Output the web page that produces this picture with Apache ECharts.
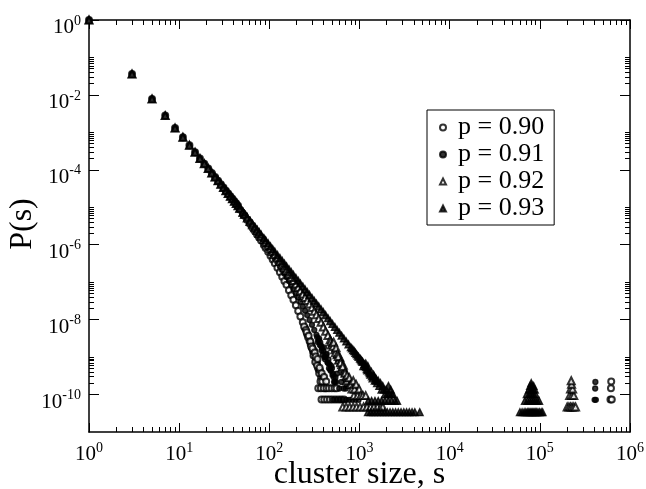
<!DOCTYPE html>
<html>
<head>
<meta charset="utf-8">
<script src="https://cdn.jsdelivr.net/npm/echarts@6/dist/echarts.min.js"></script>
<style>
  html, body { margin: 0; padding: 0; background: #ffffff; }
  #chart { width: 646px; height: 489px; }
</style>
</head>
<body>
<div id="chart"></div>
<script>
// Cluster size distribution P(s) for four occupation probabilities, log-log.
// Each entry is [s, P(s)].

// Small clusters: the four distributions coincide here.
const headPoints = [
  [1, 1], [3, 3.6e-2], [5, 7.8e-3], [7, 2.8e-3], [9, 1.3e-3], [11, 7.4e-4],
  [13, 4.5e-4], [15, 2.95e-4], [17, 2.0e-4], [19, 1.46e-4], [21, 1.08e-4],
  [23, 8.2e-5], [25, 6.4e-5], [27, 5.1e-5], [29, 4.1e-5], [31, 3.36e-5],
  [33, 2.78e-5], [35, 2.33e-5], [37, 1.97e-5], [39, 1.69e-5], [41, 1.45e-5],
  [43, 1.26e-5], [45, 1.10e-5]
];

const p90Points = [
  [47, 8.78e-6], [51, 6.72e-6], [53, 5.92e-6], [57, 4.60e-6], [61, 3.59e-6], [65, 2.86e-6],
  [69, 2.31e-6], [73, 1.88e-6], [77, 1.55e-6], [81, 1.29e-6], [87, 9.82e-7], [91, 8.21e-7],
  [97, 6.48e-7], [103, 5.09e-7], [109, 4.05e-7], [115, 3.22e-7], [123, 2.43e-7], [131, 1.83e-7],
  [139, 1.40e-7], [147, 1.08e-7], [155, 8.50e-8], [165, 6.13e-8], [175, 4.49e-8], [185, 3.38e-8],
  [197, 2.41e-8], [209, 1.71e-8], [221, 1.22e-8], [235, 8.48e-9], [249, 5.91e-9], [263, 4.08e-9],
  [279, 2.71e-9], [297, 1.75e-9], [315, 1.16e-9], [333, 7.64e-10], [353, 4.63e-10], [375, 2.87e-10],
  [397, 1.79e-10],
  [243, 6.6e-9], [255, 5.3e-9], [259, 4.6e-9], [269, 3.4e-9], [273, 3.7e-9], [287, 2.22e-9],
  [295, 2.0e-9], [305, 1.41e-9], [313, 1.48e-9], [331, 8.89e-10], [337, 6.67e-10], [347, 5.19e-10],
  [357, 3.71e-10], [365, 4.45e-10], [393, 2.96e-10],
  [285, 2.59e-9], [291, 1.93e-9], [301, 1.70e-9], [309, 1.11e-9], [319, 1.33e-9], [323, 7.41e-10],
  [327, 1.04e-9], [339, 5.93e-10], [343, 8.89e-10], [361, 5.19e-10], [369, 2.22e-10], [381, 3.71e-10],
  [387, 2.22e-10], [405, 2.96e-10], [417, 1.48e-10], [427, 2.22e-10],
  [349, 1.48e-10], [373, 1.48e-10], [401, 1.48e-10], [431, 1.48e-10], [459, 1.48e-10], [493, 1.48e-10],
  [529, 1.48e-10], [557, 1.48e-10],
  [379, 7.41e-11], [407, 7.41e-11], [437, 7.41e-11], [469, 7.41e-11], [503, 7.41e-11], [541, 7.41e-11],
  [583, 7.41e-11], [627, 7.41e-11], [673, 7.41e-11],
  [607000, 7.41e-11], [628000, 7.41e-11], [615000, 1.48e-10], [619000, 2.22e-10]
];

const p91Points = [
  [47, 9.09e-6], [51, 7.03e-6], [53, 6.20e-6], [57, 4.92e-6], [61, 3.96e-6], [65, 3.21e-6],
  [69, 2.62e-6], [73, 2.16e-6], [77, 1.80e-6], [81, 1.51e-6], [87, 1.18e-6], [91, 1.01e-6],
  [97, 8.06e-7], [103, 6.48e-7], [109, 5.28e-7], [115, 4.35e-7], [123, 3.39e-7], [131, 2.65e-7],
  [139, 2.12e-7], [147, 1.69e-7], [155, 1.38e-7], [165, 1.07e-7], [175, 8.36e-8], [185, 6.59e-8],
  [197, 5.10e-8], [209, 3.91e-8], [221, 3.00e-8], [235, 2.27e-8], [249, 1.74e-8], [263, 1.32e-8],
  [279, 9.84e-9], [297, 7.30e-9], [315, 5.31e-9], [333, 3.93e-9], [353, 2.79e-9], [375, 2.00e-9],
  [397, 1.43e-9], [421, 9.93e-10], [447, 6.91e-10], [473, 4.73e-10], [501, 3.32e-10], [533, 2.18e-10],
  [339, 3.40e-9], [345, 2.53e-9], [357, 3.1e-9], [363, 2.1e-9], [379, 1.52e-9], [391, 1.16e-9],
  [403, 1.81e-9], [415, 8.69e-10], [427, 1.16e-9], [441, 7.24e-10], [453, 8.69e-10], [465, 6.52e-10],
  [479, 4.34e-10], [495, 5.07e-10], [507, 3.62e-10], [523, 2.17e-10], [541, 2.90e-10],
  [367, 2.46e-9], [385, 1.74e-9], [409, 1.01e-9], [433, 1.23e-9], [459, 5.07e-10], [487, 5.79e-10],
  [517, 2.90e-10], [549, 2.17e-10], [563, 3.62e-10], [597, 1.45e-10], [631, 2.17e-10], [669, 1.45e-10],
  [705, 1.45e-10],
  [511, 7.24e-11], [557, 7.24e-11], [603, 7.24e-11], [653, 7.24e-11], [711, 7.24e-11], [769, 7.24e-11],
  [833, 7.24e-11], [903, 7.24e-11], [977, 7.24e-11],
  [405000, 7.24e-11], [418000, 7.24e-11], [411000, 1.45e-10], [413000, 2.17e-10]
];

const p92Points = [
  [47, 9.30e-6], [51, 7.23e-6], [53, 6.42e-6], [57, 5.14e-6], [61, 4.16e-6], [65, 3.41e-6],
  [69, 2.84e-6], [73, 2.39e-6], [77, 2.02e-6], [81, 1.72e-6], [87, 1.37e-6], [91, 1.19e-6],
  [97, 9.69e-7], [103, 7.90e-7], [109, 6.55e-7], [115, 5.50e-7], [123, 4.39e-7], [131, 3.58e-7],
  [139, 2.94e-7], [147, 2.44e-7], [155, 2.06e-7], [165, 1.66e-7], [175, 1.35e-7], [185, 1.11e-7],
  [197, 8.92e-8], [209, 7.27e-8], [221, 5.95e-8], [235, 4.81e-8], [249, 3.92e-8], [263, 3.24e-8],
  [279, 2.63e-8], [297, 2.11e-8], [315, 1.68e-8], [333, 1.36e-8], [353, 1.07e-8], [375, 8.49e-9],
  [397, 6.37e-9], [421, 4.86e-9], [447, 3.80e-9], [473, 2.92e-9], [501, 2.24e-9], [533, 1.58e-9],
  [565, 1.16e-9], [597, 8.55e-10], [633, 6.23e-10], [671, 4.37e-10], [713, 3.04e-10], [755, 2.16e-10],
  [481, 2.58e-9], [489, 2.11e-9], [509, 1.92e-9], [517, 2.48e-9], [541, 1.31e-9], [549, 1.78e-9],
  [573, 1.22e-9], [589, 8.42e-10], [605, 9.83e-10], [623, 7.49e-10], [641, 5.15e-10], [661, 6.08e-10],
  [681, 4.21e-10], [701, 3.74e-10], [721, 2.34e-10], [741, 2.81e-10], [785, 1.87e-10], [837, 1.87e-10],
  [867, 9.36e-11], [901, 1.40e-10],
  [581, 1.03e-9], [615, 7.02e-10], [651, 5.62e-10], [691, 3.74e-10], [729, 3.28e-10], [771, 2.81e-10],
  [801, 1.87e-10], [825, 1.40e-10], [853, 2.34e-10], [881, 1.40e-10], [917, 1.87e-10], [953, 9.36e-11],
  [989, 1.40e-10], [1031, 9.36e-11], [1093, 9.36e-11], [1171, 9.36e-11],
  [653, 4.68e-11], [713, 4.68e-11], [779, 4.68e-11], [851, 4.68e-11], [929, 4.68e-11], [1015, 4.68e-11],
  [1109, 4.68e-11], [1211, 4.68e-11], [1323, 4.68e-11], [1445, 4.68e-11], [1579, 4.68e-11], [1725, 4.68e-11],
  [1811, 4.68e-11],
  [201000, 4.68e-11], [210000, 4.68e-11], [219000, 4.68e-11], [228000, 4.68e-11], [238000, 4.68e-11],
  [249000, 4.68e-11], [214000, 9.36e-11], [226000, 9.36e-11], [238000, 9.36e-11], [219000, 1.40e-10],
  [231000, 1.40e-10], [225000, 1.87e-10], [223000, 2.34e-10]
];

const p93Points = [
  [47, 9.63e-6], [51, 7.54e-6], [53, 6.72e-6], [57, 5.40e-6], [61, 4.41e-6], [65, 3.64e-6],
  [69, 3.04e-6], [73, 2.57e-6], [77, 2.19e-6], [81, 1.88e-6], [87, 1.52e-6], [91, 1.33e-6],
  [97, 1.10e-6], [103, 9.15e-7], [109, 7.72e-7], [115, 6.58e-7], [123, 5.37e-7], [131, 4.45e-7],
  [139, 3.72e-7], [147, 3.15e-7], [155, 2.69e-7], [165, 2.23e-7], [175, 1.87e-7], [185, 1.58e-7],
  [197, 1.31e-7], [209, 1.10e-7], [221, 9.26e-8], [235, 7.71e-8], [249, 6.48e-8], [263, 5.50e-8],
  [279, 4.60e-8], [297, 3.82e-8], [315, 3.20e-8], [333, 2.71e-8], [353, 2.27e-8], [375, 1.90e-8],
  [397, 1.60e-8], [421, 1.33e-8], [447, 1.10e-8], [473, 9.2e-9], [501, 7.7e-9], [533, 6.4e-9],
  [565, 5.3e-9], [597, 4.5e-9], [633, 3.75e-9], [671, 3.15e-9], [713, 2.62e-9], [755, 2.2e-9],
  [801, 1.84e-9], [849, 1.54e-9], [899, 1.3e-9], [953, 1.09e-9], [1011, 9.2e-10], [1071, 7.7e-10],
  [1135, 6.5e-10],
  [823, 1.7e-9], [875, 1.44e-9], [925, 1.2e-9], [977, 1.02e-9], [1029, 8.8e-10], [1085, 7.46e-10],
  [1153, 5.76e-10], [1187, 5.42e-10], [1221, 4.41e-10], [1297, 3.73e-10], [1371, 3.05e-10], [1457, 3.05e-10],
  [1539, 2.37e-10],
  [1047, 8.14e-10], [1103, 5.76e-10], [1171, 6.78e-10], [1203, 4.75e-10], [1239, 5.76e-10], [1275, 4.07e-10],
  [1317, 3.39e-10], [1353, 4.07e-10], [1395, 2.71e-10], [1433, 3.39e-10], [1477, 2.37e-10], [1519, 2.71e-10],
  [1565, 2.03e-10], [1611, 2.37e-10], [1657, 1.70e-10], [1707, 2.03e-10], [1755, 1.36e-10], [1809, 1.70e-10],
  [1865, 1.36e-10], [1919, 1.02e-10], [1977, 1.36e-10], [2033, 1.02e-10], [2093, 1.70e-10], [2155, 1.02e-10],
  [2219, 1.36e-10], [2285, 1.02e-10], [2353, 1.02e-10],
  [1249, 6.78e-11], [1361, 6.78e-11], [1483, 6.78e-11], [1613, 6.78e-11], [1757, 6.78e-11], [1913, 6.78e-11],
  [2083, 6.78e-11], [2267, 6.78e-11], [2467, 6.78e-11], [2611, 6.78e-11],
  [1241, 3.39e-11], [1331, 3.39e-11], [1427, 3.39e-11], [1533, 3.39e-11], [1645, 3.39e-11], [1765, 3.39e-11],
  [1893, 3.39e-11], [2031, 3.39e-11], [2179, 3.39e-11], [2339, 3.39e-11], [2509, 3.39e-11], [2691, 3.39e-11],
  [2887, 3.39e-11], [3097, 3.39e-11], [3323, 3.39e-11], [3565, 3.39e-11], [3825, 3.39e-11], [4103, 3.39e-11],
  [4651, 3.39e-11],
  [60100, 3.39e-11], [63500, 3.39e-11], [66900, 3.39e-11], [69800, 3.39e-11], [72600, 3.39e-11],
  [75100, 3.39e-11], [77500, 3.39e-11], [79700, 3.39e-11], [81900, 3.39e-11], [84100, 3.39e-11],
  [86500, 3.39e-11], [89100, 3.39e-11], [92000, 3.39e-11], [95300, 3.39e-11], [99100, 3.39e-11],
  [103500, 3.39e-11], [107200, 3.39e-11],
  [68300, 6.78e-11], [72900, 6.78e-11], [77000, 6.78e-11], [80800, 6.78e-11], [84600, 6.78e-11],
  [88700, 6.78e-11], [93300, 6.78e-11], [98200, 6.78e-11],
  [71600, 1.02e-10], [76300, 1.02e-10], [80600, 1.02e-10], [85000, 1.02e-10], [89700, 1.02e-10],
  [75800, 1.36e-10], [79700, 1.36e-10], [83800, 1.36e-10], [88000, 1.36e-10],
  [77900, 1.70e-10], [81500, 1.70e-10], [85200, 1.70e-10], [80300, 2.03e-10]
];

const seriesNames = ['p = 0.90', 'p = 0.91', 'p = 0.92', 'p = 0.93'];
const xTickExponents = [0, 1, 2, 3, 4, 5, 6];
const yTickExponents = [-10, -8, -6, -4, -2, 0];

const FONT = 'Liberation Serif';

// Both axes work in decades (log10 of the value).
const toDecades = pts => pts.map(([s, p]) => [Math.log10(s), Math.log10(p)]);

const xMinorTicks = [];
for (let e = 0; e < 6; e++) for (let k = 2; k <= 9; k++) xMinorTicks.push(e + Math.log10(k));
const yMinorTicks = [];
for (const e of [-10, -8, -6, -4, -2]) for (let k = 2; k <= 10; k++) yMinorTicks.push(e + Math.log10(k));

const powerRich = {
  b: { fontFamily: FONT, fontSize: 21, lineHeight: 24, color: '#000', verticalAlign: 'bottom' },
  e: { fontFamily: FONT, fontSize: 14, lineHeight: 14, color: '#000', verticalAlign: 'top' }
};
const powerLabel = v => '{b|10}{e|' + Math.round(v) + '}';

const line = { color: '#000', width: 1.5 };
const tickLine = { color: '#000', width: 1 };

function tickAxis(dim, position, values, len, showLine) {
  const range = dim === 'x' ? { min: 0, max: 6 } : { min: -11, max: 0 };
  return Object.assign({
    type: 'value', position: position,
    axisLine: { show: showLine, onZero: false, lineStyle: line },
    axisTick: { show: true, inside: true, length: len, customValues: values, lineStyle: tickLine },
    axisLabel: { show: false },
    splitLine: { show: false }
  }, range);
}

const xMain = tickAxis('x', 'bottom', xTickExponents, 9, true);
xMain.axisLabel = {
  show: true, customValues: xTickExponents, formatter: powerLabel, rich: powerRich, margin: 9
};
xMain.name = 'cluster size, s';
xMain.nameLocation = 'middle';
xMain.nameGap = 27;
xMain.nameMoveOverlap = false;
xMain.nameTextStyle = { fontFamily: FONT, fontSize: 32, color: '#000' };

const yMain = tickAxis('y', 'left', yTickExponents, 10, true);
yMain.axisLabel = {
  show: true, customValues: yTickExponents, formatter: powerLabel, rich: powerRich, margin: 8,
  padding: [12, 0, 0, 0]
};
yMain.name = 'P(s)';
yMain.nameLocation = 'middle';
yMain.nameRotate = 90;
yMain.nameGap = 50;
yMain.nameMoveOverlap = false;
yMain.nameTextStyle = { fontFamily: FONT, fontSize: 32, color: '#000', padding: [0, 0, 0, 4] };

const symbols = [
  { symbol: 'emptyCircle', size: 6 },
  { symbol: 'circle', size: 5 },
  { symbol: 'emptyTriangle', size: 7 },
  { symbol: 'triangle', size: 7 }
];
const bodies = [p90Points, p91Points, p92Points, p93Points];

const series = bodies.map((pts, i) => ({
  name: seriesNames[i],
  type: 'scatter',
  xAxisIndex: 0,
  yAxisIndex: 0,
  clip: false,
  symbol: symbols[i].symbol,
  symbolSize: symbols[i].size,
  itemStyle: { color: '#000', borderColor: '#000', borderWidth: 1.3 },
  emphasis: { disabled: true },
  data: toDecades(headPoints.concat(pts))
}));

const chart = echarts.init(document.getElementById('chart'), null, { renderer: 'canvas' });
chart.setOption({
  animation: false,
  backgroundColor: '#ffffff',
  grid: { left: 89, right: 16, top: 20, bottom: 57, containLabel: false, outerBoundsMode: 'none' },
  xAxis: [
    xMain,
    tickAxis('x', 'bottom', xMinorTicks, 5, false),
    tickAxis('x', 'top', xTickExponents, 9, true),
    tickAxis('x', 'top', xMinorTicks, 5, false)
  ],
  yAxis: [
    yMain,
    tickAxis('y', 'left', yMinorTicks, 5, false),
    tickAxis('y', 'right', yTickExponents, 10, true),
    tickAxis('y', 'right', yMinorTicks, 5, false)
  ],
  legend: {
    data: seriesNames,
    orient: 'vertical',
    left: 427,
    top: 110,
    padding: [4, 10, 3, 12],
    itemGap: 0,
    itemWidth: 6,
    itemHeight: 6,
    borderColor: '#000',
    borderWidth: 1,
    selectedMode: false,
    textStyle: { fontFamily: FONT, fontSize: 26, lineHeight: 27, color: '#000', padding: [0, 0, 0, 7] }
  },
  series: series
});
</script>
</body>
</html>
